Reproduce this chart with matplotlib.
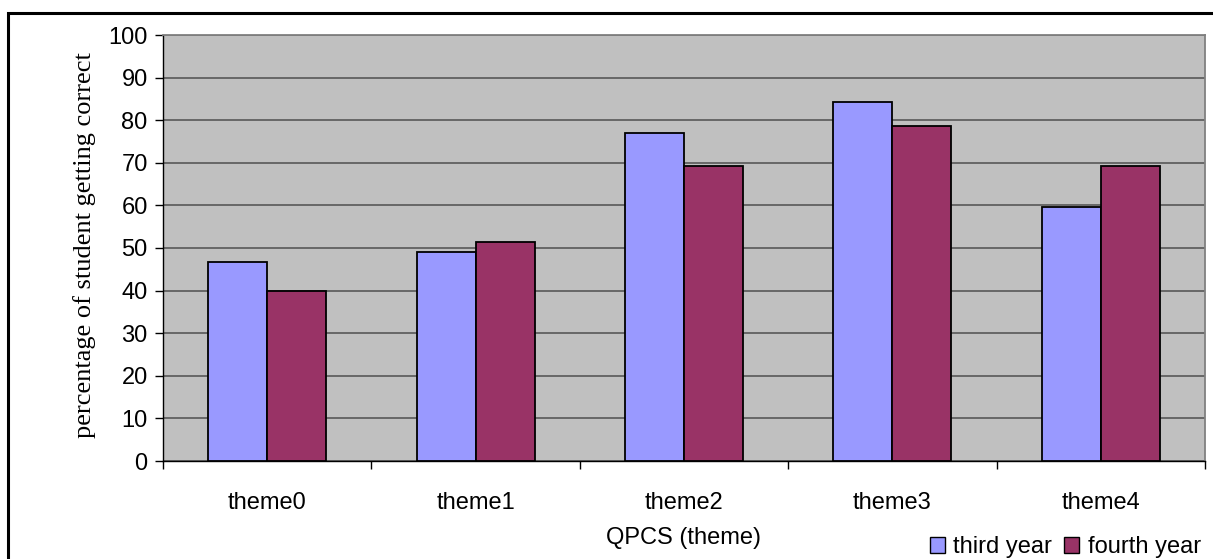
import matplotlib
matplotlib.use("Agg")
import matplotlib.pyplot as plt
from matplotlib.patches import Rectangle, Patch
import numpy as np

categories = ["theme0", "theme1", "theme2", "theme3", "theme4"]
third_year = [46.7, 49.1, 76.9, 84.3, 59.6]
fourth_year = [40.0, 51.4, 69.3, 78.7, 69.3]
series_names = ["third year", "fourth year"]
yticks = list(range(0, 101, 10))

W, H = 1213, 559
FS = 17
fig = plt.figure(figsize=(W / 100, H / 100), dpi=100)
fig.patch.set_facecolor("white")

# outer frame (cut off at right/bottom)
fig.patches.append(Rectangle((8 / W, -0.1), 1.2, (H - 13) / H + 0.1,
                             transform=fig.transFigure, fill=False,
                             edgecolor="black", linewidth=2.2, zorder=0))

left, right, top, bottom = 163, 1205, 35, 461
ax = fig.add_axes([left / W, 1 - bottom / H, (right - left) / W, (bottom - top) / H])
ax.set_facecolor("#C0C0C0")

x = np.arange(len(categories))
bw = 0.283
ax.bar(x - bw / 2, third_year, width=bw, color="#9999FF", edgecolor="black",
       linewidth=1.3, zorder=3, label=series_names[0])
ax.bar(x + bw / 2, fourth_year, width=bw, color="#993366", edgecolor="black",
       linewidth=1.3, zorder=3, label=series_names[1])

ax.set_xlim(-0.5, len(categories) - 0.5)
ax.set_ylim(0, 100)
ax.set_yticks(yticks)
ax.set_yticklabels([str(v) for v in yticks], family="Liberation Sans", fontsize=FS)
ax.yaxis.grid(True, color="#606060", linewidth=1.3, zorder=1)
ax.set_axisbelow(True)

ax.set_xticks(np.arange(-0.5, len(categories), 1.0))
ax.set_xticklabels([])
ax.set_xticks(x, minor=True)
ax.set_xticklabels(categories, minor=True, family="Liberation Sans", fontsize=FS)
ax.tick_params(axis="x", which="major", length=6, width=1, color="black", direction="out")
ax.tick_params(axis="x", which="minor", length=0, pad=22)
ax.tick_params(axis="y", length=6, width=1, color="black", direction="out", pad=5)

for s in ["top", "right"]:
    ax.spines[s].set_color("#808080")
    ax.spines[s].set_linewidth(1.3)
ax.spines["left"].set_color("black")
ax.spines["bottom"].set_color("black")
ax.spines["left"].set_linewidth(1)
ax.spines["bottom"].set_linewidth(1)

fig.text(85 / W, 1 - 245 / H, "percentage of student getting correct",
         rotation=90, ha="center", va="center", family="Liberation Serif", fontsize=19)
fig.text(684 / W, 1 - 538 / H, "QPCS (theme)", ha="center", va="center",
         family="Liberation Sans", fontsize=FS)

handles = [Patch(facecolor="#9999FF", edgecolor="black", linewidth=1),
           Patch(facecolor="#993366", edgecolor="black", linewidth=1)]
fig.legend(handles, series_names, loc="center left",
           bbox_to_anchor=(918 / W, 1 - 547 / H), ncol=2, frameon=False,
           prop={"family": "Liberation Sans", "size": FS},
           handlelength=0.65, handleheight=0.65, handletextpad=0.35,
           columnspacing=0.5, borderpad=0)

fig.savefig("out.png", dpi=100)
